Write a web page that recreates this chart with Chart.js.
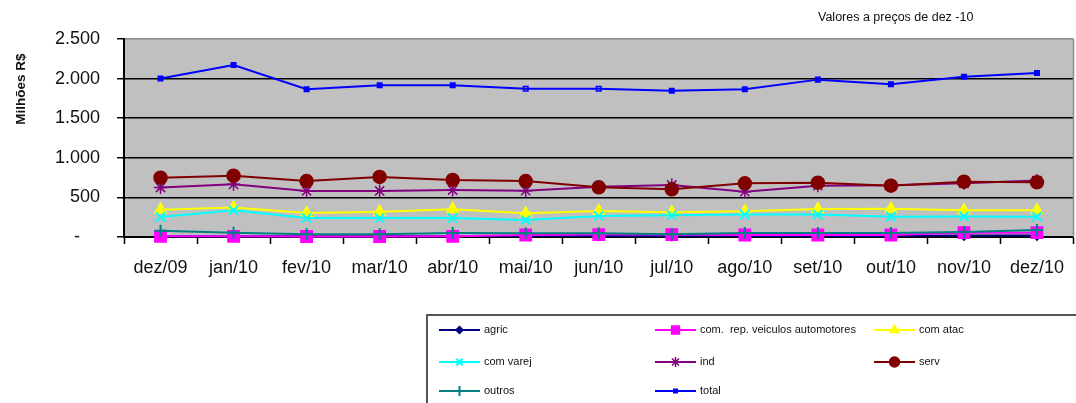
<!DOCTYPE html>
<html>
<head>
<meta charset="utf-8">
<style>
  html, body { margin: 0; padding: 0; background: #ffffff; }
  #wrap { position: relative; width: 1076px; height: 403px; overflow: hidden; }
  canvas { display: block; }
</style>
<script src="https://cdn.jsdelivr.net/npm/chart.js@4.4.0/dist/chart.umd.min.js"></script>
</head>
<body>
<div id="wrap"><canvas id="c" width="1083" height="403"></canvas></div>
<script>
// Months on the horizontal axis
const categories = ['dez/09','jan/10','fev/10','mar/10','abr/10','mai/10','jun/10','jul/10','ago/10','set/10','out/10','nov/10','dez/10'];

// Monthly values by sector (R$ millions, Dec-2010 prices)
const agric    = [10, 10, 8, 8, 10, 12, 12, 10, 12, 12, 12, 18, 18];
const comRep   = [8, 8, 6, 6, 8, 25, 30, 30, 25, 25, 25, 55, 55];
const comAtac  = [345, 372, 303, 320, 350, 299, 328, 312, 324, 354, 358, 337, 337];
const comVarej = [252, 338, 240, 240, 240, 215, 265, 274, 283, 283, 257, 260, 257];
const ind      = [625, 665, 581, 581, 593, 585, 635, 657, 572, 648, 652, 678, 712];
const serv     = [749, 774, 707, 758, 720, 707, 627, 602, 678, 686, 648, 698, 690];
const outros   = [80, 55, 34, 34, 50, 46, 46, 34, 50, 50, 50, 63, 88];
const total    = [2000, 2172, 1865, 1915, 1915, 1873, 1873, 1848, 1865, 1987, 1928, 2024, 2071];

// Y axis tick labels (accounting style, zero shown as a dash)
const yTickValues = [0, 500, 1000, 1500, 2000, 2500];
const yTickLabels = ['-    ', '500', '1.000', '1.500', '2.000', '2.500'];

const seriesNames = ['agric', 'com.  rep. veiculos automotores', 'com atac', 'com varej', 'ind', 'serv', 'outros', 'total'];

const FONT = '"Liberation Sans", Arial, sans-serif';

function series(label, data, color, style, radius, extra) {
  return Object.assign({
    label, data,
    borderColor: color,
    backgroundColor: color,
    pointBackgroundColor: color,
    pointBorderColor: color,
    pointStyle: style,
    pointRadius: radius,
    pointHoverRadius: radius,
    pointBorderWidth: 1.5,
    borderWidth: 2,
    tension: 0,
    clip: false
  }, extra || {});
}

const datasets = [
  series(seriesNames[0], agric, '#000080', 'rectRot', 4.5),
  series(seriesNames[1], comRep, '#ff00ff', 'rect', 8),
  series(seriesNames[2], comAtac, '#ffff00', 'triangle', 6.5),
  series(seriesNames[3], comVarej, '#00ffff', 'crossRot', 6.5, { pointBorderWidth: 2 }),
  series(seriesNames[4], ind, '#800080', 'star', 6.5, { pointBorderWidth: 1.5 }),
  series(seriesNames[5], serv, '#800000', 'circle', 6.5),
  series(seriesNames[6], outros, '#008080', 'cross', 6, { pointBorderWidth: 2 }),
  series(seriesNames[7], total, '#0000ff', 'rect', 3.2, {
    pointBackgroundColor: total.map((v, i) => (i === 5 || i === 6) ? 'rgba(0,0,0,0)' : '#0000ff')
  })
];
// later series are painted over earlier ones
datasets.forEach((d, i) => { d.order = datasets.length - i; });

const legendSizes = [3.5, 5.5, 5, 4.5, 5, 5, 5, 2.5];

const decorPlugin = {
  id: 'decor',
  beforeDraw(chart) {
    const { ctx, chartArea: a } = chart;
    ctx.save();
    ctx.fillStyle = '#c0c0c0';
    ctx.fillRect(a.left, a.top, a.right - a.left, a.bottom - a.top);
    ctx.restore();
  },
  beforeDatasetsDraw(chart) {
    const { ctx, chartArea: a } = chart;
    ctx.save();
    ctx.strokeStyle = '#8a8a8a';
    ctx.lineWidth = 1.5;
    ctx.beginPath();
    ctx.moveTo(a.right, a.top);
    ctx.lineTo(a.right, a.bottom);
    ctx.stroke();
    ctx.restore();
  },
  afterDraw(chart) {
    const ctx = chart.ctx;
    ctx.save();
    // subtitle
    ctx.fillStyle = '#111';
    ctx.font = '12.5px ' + FONT;
    ctx.textAlign = 'left';
    ctx.textBaseline = 'middle';
    ctx.fillText('Valores a preços de dez -10', 818, 18);

    // vertical axis title
    ctx.save();
    ctx.translate(21, 89);
    ctx.rotate(-Math.PI / 2);
    ctx.font = 'bold 13.5px ' + FONT;
    ctx.textAlign = 'center';
    ctx.textBaseline = 'middle';
    ctx.fillText('Milhões R$', 0, 0);
    ctx.restore();

    // legend box
    ctx.strokeStyle = '#555';
    ctx.lineWidth = 2;
    ctx.strokeRect(427, 315, 700, 120);

    const colX = [439, 655, 874];
    const rowY = [330, 362, 391];
    ctx.font = '11px ' + FONT;
    ctx.textBaseline = 'middle';
    ctx.textAlign = 'left';
    chart.data.datasets.forEach((ds, i) => {
      const x = colX[i % 3];
      const y = rowY[Math.floor(i / 3)];
      ctx.strokeStyle = ds.borderColor;
      ctx.lineWidth = 2;
      ctx.beginPath();
      ctx.moveTo(x, y);
      ctx.lineTo(x + 41, y);
      ctx.stroke();
      ctx.fillStyle = ds.borderColor;
      ctx.strokeStyle = ds.borderColor;
      ctx.lineWidth = ds.pointBorderWidth;
      Chart.helpers.drawPoint(ctx, {
        pointStyle: ds.pointStyle,
        radius: legendSizes[i],
        rotation: 0,
        borderWidth: ds.pointBorderWidth
      }, x + 20.5, y);
      ctx.fillStyle = '#111';
      ctx.fillText(ds.label, x + 45, y);
    });
    ctx.restore();
  }
};

new Chart(document.getElementById('c'), {
  type: 'line',
  data: { labels: categories, datasets },
  plugins: [decorPlugin],
  options: {
    responsive: false,
    animation: false,
    layout: { padding: { left: 0, top: 39, right: 0, bottom: 0 } },
    plugins: {
      legend: { display: false },
      tooltip: { enabled: false },
      title: { display: false }
    },
    scales: {
      x: {
        type: 'category',
        offset: true,
        afterFit(scale) { scale.height = 166; },
        grid: {
          offset: true,
          drawOnChartArea: false,
          drawTicks: true,
          tickLength: 7,
          tickColor: '#000',
          tickWidth: 1.5
        },
        border: { display: true, color: '#000', width: 2 },
        ticks: {
          color: '#111',
          font: { family: FONT, size: 18 },
          padding: 13,
          maxRotation: 0,
          autoSkip: false
        }
      },
      y: {
        min: 0,
        max: 2500,
        afterFit(scale) { scale.width = 124; },
        afterBuildTicks(scale) { scale.ticks = yTickValues.map(v => ({ value: v })); },
        grid: {
          color: ctx => (ctx.tick && ctx.tick.value === 2500) ? '#8a8a8a' : '#000',
          lineWidth: 1.5,
          drawTicks: true,
          tickLength: 7,
          tickColor: '#000',
          tickWidth: 1.5
        },
        border: { display: true, color: '#000', width: 2 },
        ticks: {
          color: '#111',
          font: { family: FONT, size: 18 },
          padding: 17,
          callback: (v, i) => yTickLabels[yTickValues.indexOf(v)]
        }
      }
    }
  }
});
</script>
</body>
</html>
